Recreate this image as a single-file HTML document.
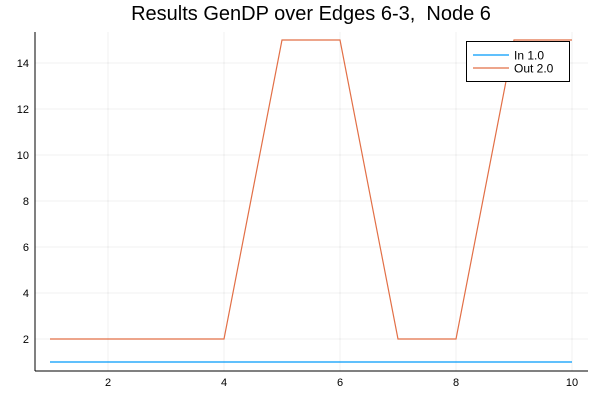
<!DOCTYPE html>
<html><head><meta charset="utf-8"><style>
body{margin:0;background:#fff}
svg{display:block;font-family:"Liberation Sans","DejaVu Sans",sans-serif}
</style></head><body>
<svg id="c" width="600" height="400">
<text x="311" y="20" text-anchor="middle" font-size="20" style="white-space:pre">Results GenDP over Edges 6-3,&#160; Node 6</text>
<g id="grid"></g>
<line x1="35" y1="371" x2="588" y2="371" stroke="#000"/>
<line x1="35" y1="32" x2="35" y2="371" stroke="#000"/>
<g id="ticks" font-size="11"></g>
<g id="series"></g>
<g>
<rect x="466.5" y="41.5" width="103" height="40" fill="#fff" stroke="#000"/>
<line x1="473" y1="55" x2="509" y2="55" stroke="#009af9" stroke-width="1.2"/>
<text x="514" y="59.5" font-size="12">In 1.0</text>
<line x1="473" y1="68" x2="509" y2="68" stroke="#e26f46" stroke-width="1.2"/>
<text x="514" y="72.5" font-size="12">Out 2.0</text>
</g>
</svg>
<script>
const xs=[1,2,3,4,5,6,7,8,9,10];
const inVals=[1,1,1,1,1,1,1,1,1,1];
const outVals=[2,2,2,2,15,15,2,2,15,15];
const xTicks=[2,4,6,8,10];
const yTicks=[2,4,6,8,10,12,14];
const X=v=>50+(v-1)*58;
const Y=v=>362-(v-1)*23;
const NS="http://www.w3.org/2000/svg";
const g=document.getElementById('grid'),t=document.getElementById('ticks'),s=document.getElementById('series');
function mk(tag,at,p){const e=document.createElementNS(NS,tag);for(const k in at)e.setAttribute(k,at[k]);p.appendChild(e);return e;}
xTicks.forEach(v=>{
 const l=mk('line',{x1:X(v),x2:X(v),y1:32,y2:371,stroke:'#000','stroke-opacity':0.06},g);
 
 
 const tx=mk('text',{x:X(v),y:386,'text-anchor':'middle'},t);tx.textContent=v;
 
 
});
yTicks.forEach(v=>{
 const l=mk('line',{x1:35,x2:588,y1:Y(v),y2:Y(v),stroke:'#000','stroke-opacity':0.06},g);
 
 
 const tx=mk('text',{x:29,y:Y(v)+4,'text-anchor':'end'},t);tx.textContent=v;
 
 
});
function line(vals,col,name){
 const p=mk('polyline',{points:xs.map((x,i)=>X(x)+','+Y(vals[i])).join(' '),fill:'none',stroke:col,'stroke-width':1.2},s);
 
 
}
line(inVals,'#009af9','series-in');
line(outVals,'#e26f46','series-out');
</script>
</body></html>
